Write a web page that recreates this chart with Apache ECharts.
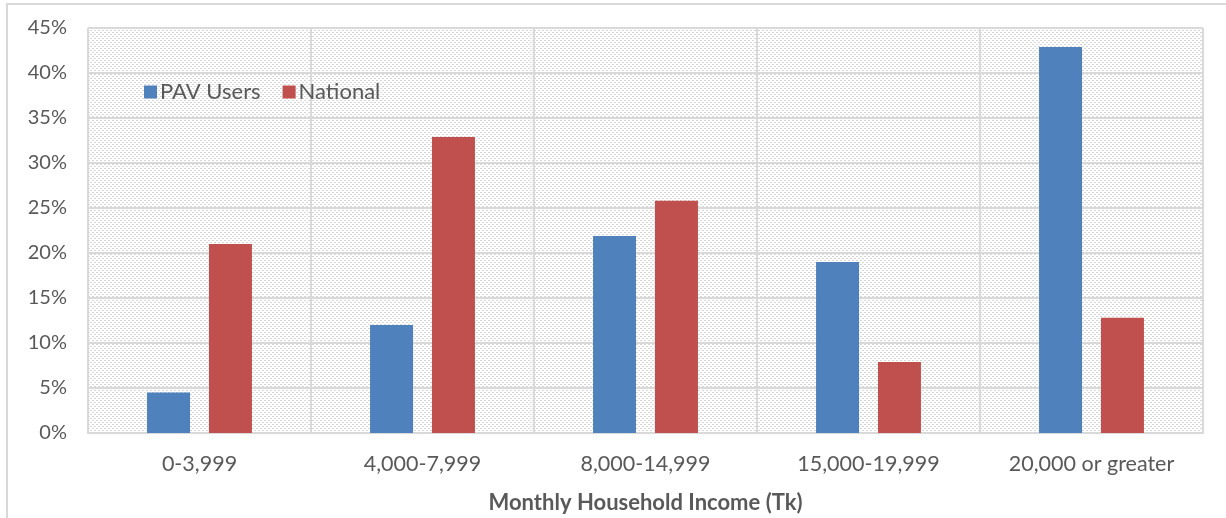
<!DOCTYPE html>
<html>
<head>
<meta charset="utf-8">
<script src="https://cdn.jsdelivr.net/npm/echarts@6/dist/echarts.min.js"></script>
<style>
html,body{margin:0;padding:0;background:#fff;overflow:hidden;width:1226px;height:518px;}
#main{position:absolute;left:0;top:0;width:1226px;height:518px;}
#frame{position:absolute;left:6px;top:3px;width:1220px;height:515px;border-left:2px solid #d9d9d9;border-top:2px solid #d9d9d9;box-sizing:border-box;pointer-events:none;}
</style>
</head>
<body>
<div id="main"></div>
<div id="frame"></div>
<script>
const categories = ['0-3,999', '4,000-7,999', '8,000-14,999', '15,000-19,999', '20,000 or greater'];
const pavUsers = [4.5, 12.0, 21.9, 19.0, 42.9];
const national = [21.0, 32.9, 25.8, 7.9, 12.8];
const seriesNames = ['PAV Users', 'National'];
const xAxisTitle = 'Monthly Household Income (Tk)';

// hatch pattern for the plot area
const tile = document.createElement('canvas');
tile.width = 8; tile.height = 8;
const tctx = tile.getContext('2d');
tctx.fillStyle = '#ffffff';
tctx.fillRect(0, 0, 8, 8);
tctx.fillStyle = '#d6d6d6';
for (let y = 0; y < 8; y++) {
  for (let x = 0; x < 8; x++) {
    if (((x - y) % 4 + 4) % 4 === 0 && (x % 2 === 0)) tctx.fillRect(x, y, 1, 1);
    if (((x - y) % 4 + 4) % 4 === 1 && (x % 2 === 1)) tctx.fillRect(x, y, 1, 1);
  }
}

const chart = echarts.init(document.getElementById('main'), null, {renderer: 'canvas'});
const font = 'Lato, "Open Sans", sans-serif';
chart.setOption({
  animation: false,
  backgroundColor: '#ffffff',
  grid: {
    left: 88, right: 23, top: 28, bottom: 85,
    outerBoundsMode: 'none',
    containLabel: false,
    show: true,
    backgroundColor: {image: tile, repeat: 'repeat'},
    borderWidth: 0
  },
  legend: {
    data: seriesNames,
    left: 139, top: 76,
    itemWidth: 13, itemHeight: 13, itemGap: 22,
    icon: 'rect',
    textStyle: {fontFamily: font, fontSize: 22, color: '#595959', padding: [0,0,0,-2]}
  },
  xAxis: {
    type: 'category',
    data: categories,
    axisLine: {show: true, lineStyle: {color: '#d9d9d9', width: 2}},
    axisTick: {show: false},
    axisLabel: {fontFamily: font, fontSize: 21.5, color: '#595959', margin: 20},
    splitLine: {show: true, interval: 0, lineStyle: {color: '#d9d9d9', width: 2}},
    name: xAxisTitle,
    nameLocation: 'middle',
    nameGap: 59,
    nameTextStyle: {fontFamily: font, fontSize: 22, fontWeight: 'bold', color: '#595959'}
  },
  yAxis: {
    type: 'value',
    min: 0, max: 45, interval: 5,
    axisLine: {show: false},
    axisTick: {show: false},
    axisLabel: {fontFamily: font, fontSize: 20, color: '#595959', margin: 21, formatter: '{value}%'},
    splitLine: {show: true, lineStyle: {color: '#d9d9d9', width: 2}}
  },
  series: [
    {name: seriesNames[0], type: 'bar', data: pavUsers, barWidth: 43, barGap: '44%',
     itemStyle: {color: '#4F81BD'}},
    {name: seriesNames[1], type: 'bar', data: national, barWidth: 43,
     itemStyle: {color: '#C0504D'}}
  ]
});
</script>
</body>
</html>
